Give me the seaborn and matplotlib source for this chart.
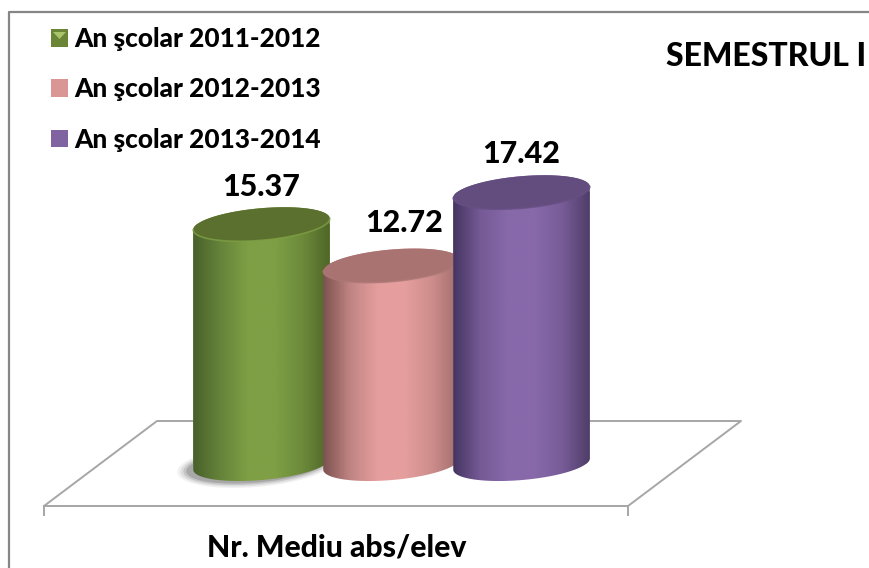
import matplotlib
matplotlib.use('Agg')
import matplotlib.pyplot as plt
import numpy as np
import pandas as pd
import seaborn as sns
from matplotlib.colors import LinearSegmentedColormap
from matplotlib.patches import Polygon

years = ['An şcolar 2011-2012', 'An şcolar 2012-2013', 'An şcolar 2013-2014']
values = [15.37, 12.72, 17.42]
axis_label = 'Nr. Mediu abs/elev'
title = 'SEMESTRUL I'

base_colors = ['#6a8536', '#d99694', '#8064a2']
top_colors = ['#5b702e', '#a87371', '#634d7e']
rim_colors = ['#7f9f45', '#ad7876', '#674f83']
gradients = [
  ['#48602a', '#66843a', '#7f9f45', '#7f9f45', '#6c8a3a', '#4f6628'],
  ['#7d5250', '#c08583', '#e59e9d', '#e59e9d', '#cc8d8b', '#a06c6a'],
  ['#453560', '#755a96', '#8769aa', '#8769aa', '#775c98', '#4f3d68'],
]
label_shift_x = [0.0, 0.10, 0.0]
label_shift_y = [2.4, 2.7, 2.45]

W, H = 870, 568
PX_X, PX_Y = 130.0, 15.6   # pixels per category / per value
X0, Y0 = 261.5, 464.0      # pixel position of first bar centre, baseline
A, B, TILT = 68.5, 16.0, np.radians(5)

plt.rcParams['font.family'] = ['Lato', 'DejaVu Sans']


def to_data(px, py):
  return (np.asarray(px, float) - X0) / PX_X, (Y0 - np.asarray(py, float)) / PX_Y


def arc(cx, v, t0, t1, a=A, b=B, n=80):
  t = np.linspace(t0, t1, n)
  dx = a * np.cos(t) * np.cos(TILT) - b * np.sin(t) * np.sin(TILT)
  dy = a * np.cos(t) * np.sin(TILT) + b * np.sin(t) * np.cos(TILT)
  return np.column_stack([cx + dx / PX_X, v + dy / PX_Y])


def line_px(ax, xs, ys, **kw):
  x, y = to_data(xs, ys)
  ax.plot(x, y, solid_capstyle='projecting', **kw)


df = pd.DataFrame({'year': years, 'value': values})

fig = plt.figure(figsize=(W / 100, H / 100), dpi=100)
ax = fig.add_axes([0, 0, 1, 1])
sns.barplot(data=df, x='year', y='value', hue='year', hue_order=years, palette=base_colors,
            width=137 / PX_X, dodge=False, saturation=1, legend=True, ax=ax, zorder=3)

x_lim = to_data([0, W], [H, 0])[0]
y_lim = to_data([0, W], [H, 0])[1]

# frame and floor
line_px(ax, [9, 9, 870], [568, 12, 12], color='#868686', lw=1.6, zorder=1)
line_px(ax, [44, 157, 741, 628, 44], [506, 421, 421, 506, 506], color='#a6a6a6', lw=1.4, zorder=1)
line_px(ax, [44, 44], [506, 515], color='#a6a6a6', lw=1.4, zorder=1)
line_px(ax, [628, 628], [506, 515], color='#a6a6a6', lw=1.4, zorder=1)

t0 = np.arctan(-(B / A) * np.tan(TILT))
bars = sorted([p for p in ax.patches if p.get_height() > 0], key=lambda p: p.get_x())

# soft shadow under the first cylinder
for grow, alpha in zip([11, 8, 5, 2], [0.08, 0.12, 0.18, 0.25]):
  pts = arc(bars[0].get_x() + bars[0].get_width() / 2 - 5 / PX_X, -1.5 / PX_Y, 0, 2 * np.pi, a=A + grow, b=B + grow / 2)
  ax.add_patch(Polygon(pts, closed=True, facecolor='#555555', edgecolor='none', alpha=alpha, zorder=2))

for i, bar in enumerate(bars):
  cx = bar.get_x() + bar.get_width() / 2
  v = bar.get_height()
  z = 3 + i
  outline = np.vstack([arc(cx, v, t0, t0 + np.pi), arc(cx, 0, t0 + np.pi, t0 + 2 * np.pi)])
  clip = Polygon(outline, closed=True, transform=ax.transData)
  bar.set_clip_path(clip)

  cmap = LinearSegmentedColormap.from_list(f'cyl{i}', gradients[i])
  shade = np.linspace(0, 1, 256).reshape(1, -1)
  im = ax.imshow(shade, cmap=cmap, aspect='auto', interpolation='bilinear', zorder=z,
                 extent=[bar.get_x(), bar.get_x() + bar.get_width(), -2, v + 2])
  im.set_clip_path(clip)

  ax.add_patch(Polygon(arc(cx, v, 0, 2 * np.pi), closed=True, facecolor=top_colors[i], edgecolor='none', zorder=z + 0.2))
  rim = arc(cx, v, t0 + np.pi, t0 + 2 * np.pi)
  ax.plot(rim[:, 0], rim[:, 1], color=rim_colors[i], lw=1.2, alpha=0.8, zorder=z + 0.3)

  ax.text(cx + label_shift_x[i], v + label_shift_y[i], f'{values[i]:.2f}', ha='center', va='center',
          fontsize=22, fontweight=900, color='black', zorder=10)

ax.set_xlim(x_lim)
ax.set_ylim(y_lim)

leg = ax.legend(loc='upper left', bbox_to_anchor=(51 / W, 1 - 27 / H), frameon=False,
                prop={'size': 18.9, 'weight': 900},
                handlelength=0.65, handleheight=0.65, handletextpad=0.22, labelspacing=1.0,
                borderpad=0, borderaxespad=0)
leg.set_zorder(10)

# bevel on the first legend key
kx, ky = to_data([53, 66, 59.5], [32, 32, 39])
ax.add_patch(Polygon(np.column_stack([kx, ky]), closed=True, facecolor='#a9c46c', edgecolor='none', zorder=11))

tx, ty = to_data(336.5, 548)
ax.text(tx, ty, axis_label, ha='center', va='center', fontsize=21.7, fontweight=900, zorder=10)
tx, ty = to_data(866, 57)
ax.text(tx, ty, title, ha='right', va='center', fontsize=23, fontweight=900, zorder=10)

ax.axis('off')
fig.savefig('out.png', dpi=100, facecolor='white')
